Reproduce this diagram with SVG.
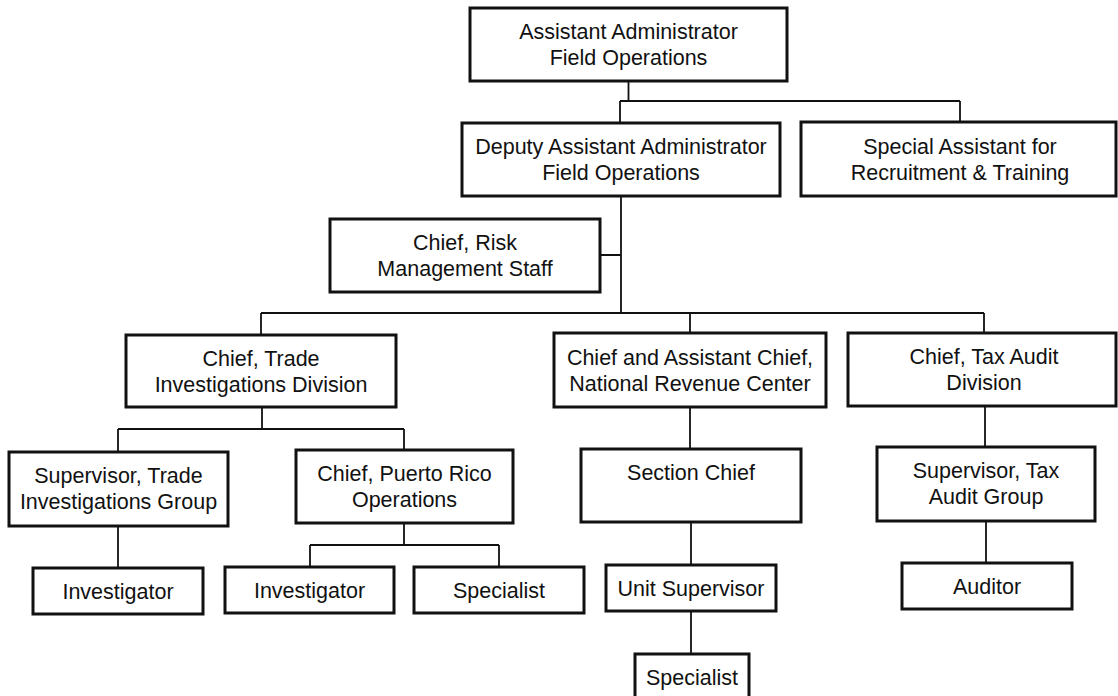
<svg xmlns="http://www.w3.org/2000/svg" width="1118" height="696" viewBox="0 0 1118 696">
<style>
.box{fill:#fff;stroke:#111;stroke-width:3}
.lbl{font-family:"Liberation Sans",Arial,sans-serif;font-size:21.5px;fill:#111;text-anchor:middle}
.con{fill:none;stroke:#111;stroke-width:1.8}
</style>
<rect width="1118" height="696" fill="#fff"/>
<g id="connectors">
<path class="con" d="M628.5,81V101M620,101H960M620,101V123M960,101V122"/>
<path class="con" d="M621,196V313M600,255H621"/>
<path class="con" d="M261,313H984M261,313V335M690,313V333M984,313V333"/>
<path class="con" d="M262,407V429M118,429H404M118,429V452M404,429V450"/>
<path class="con" d="M118,526V568"/>
<path class="con" d="M404,523V545M310,545H499M310,545V567M499,545V567"/>
<path class="con" d="M690,407V449M691,522V565M691,611V654"/>
<path class="con" d="M985,406V447M986,521V563"/>
</g>
<g id="n-top"><rect class="box" x="470" y="8" width="317" height="73"/><text class="lbl" x="628.5" y="39">Assistant Administrator</text><text class="lbl" x="628.5" y="65">Field Operations</text></g>
<g id="n-deputy"><rect class="box" x="462" y="123" width="318" height="73"/><text class="lbl" x="621" y="154">Deputy Assistant Administrator</text><text class="lbl" x="621" y="180">Field Operations</text></g>
<g id="n-special"><rect class="box" x="801" y="122" width="315" height="74"/><text class="lbl" x="960" y="154">Special Assistant for</text><text class="lbl" x="960" y="180">Recruitment &amp; Training</text></g>
<g id="n-risk"><rect class="box" x="330" y="219" width="270" height="73"/><text class="lbl" x="465" y="250">Chief, Risk</text><text class="lbl" x="465" y="276">Management Staff</text></g>
<g id="n-trade"><rect class="box" x="126" y="335" width="270" height="72"/><text class="lbl" x="261" y="365.5">Chief, Trade</text><text class="lbl" x="261" y="391.5">Investigations Division</text></g>
<g id="n-nrc"><rect class="box" x="554" y="333" width="272" height="74"/><text class="lbl" x="690" y="364.5">Chief and Assistant Chief,</text><text class="lbl" x="690" y="390.5">National Revenue Center</text></g>
<g id="n-tax"><rect class="box" x="848" y="333" width="268" height="73"/><text class="lbl" x="984" y="364">Chief, Tax Audit</text><text class="lbl" x="984" y="390">Division</text></g>
<g id="n-suptig"><rect class="box" x="9" y="452" width="219" height="74"/><text class="lbl" x="118.5" y="482.5">Supervisor, Trade</text><text class="lbl" x="118.5" y="508.5">Investigations Group</text></g>
<g id="n-pr"><rect class="box" x="296" y="450" width="217" height="73"/><text class="lbl" x="404.5" y="481">Chief, Puerto Rico</text><text class="lbl" x="404.5" y="507">Operations</text></g>
<g id="n-section"><rect class="box" x="581" y="449" width="220" height="73"/><text class="lbl" x="691" y="479.5">Section Chief</text></g>
<g id="n-suptax"><rect class="box" x="877" y="447" width="218" height="74"/><text class="lbl" x="986" y="477.5">Supervisor, Tax</text><text class="lbl" x="986" y="503.5">Audit Group</text></g>
<g id="n-inv1"><rect class="box" x="33" y="568" width="170" height="46"/><text class="lbl" x="118" y="598.5">Investigator</text></g>
<g id="n-inv2"><rect class="box" x="225" y="567" width="169" height="46"/><text class="lbl" x="309.5" y="597.5">Investigator</text></g>
<g id="n-spec1"><rect class="box" x="414" y="567" width="170" height="46"/><text class="lbl" x="499" y="597.5">Specialist</text></g>
<g id="n-unit"><rect class="box" x="606" y="565" width="170" height="46"/><text class="lbl" x="691" y="595.5">Unit Supervisor</text></g>
<g id="n-auditor"><rect class="box" x="902" y="563" width="170" height="46"/><text class="lbl" x="987" y="593.5">Auditor</text></g>
<g id="n-spec2"><rect class="box" x="635" y="654" width="114" height="46"/><text class="lbl" x="692" y="684.5">Specialist</text></g>
</svg>
